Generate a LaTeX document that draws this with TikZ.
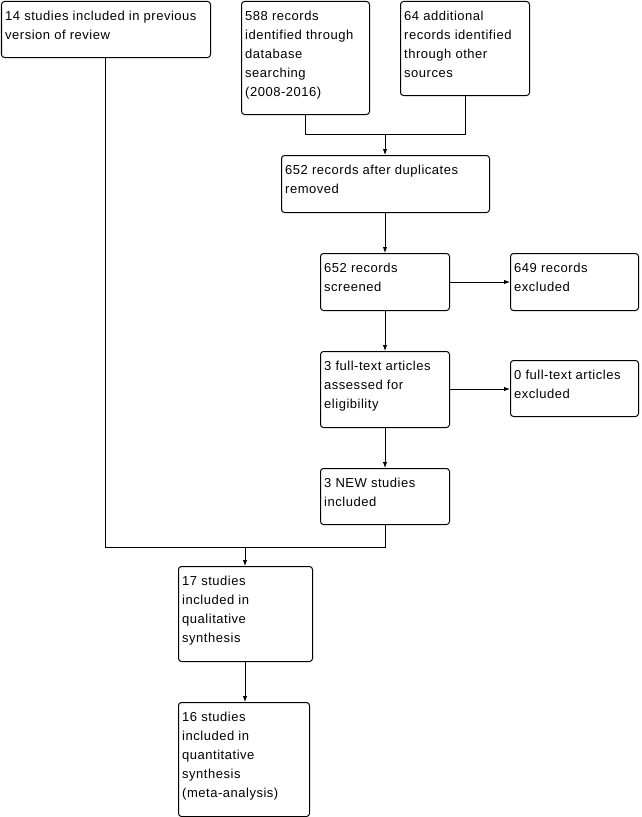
\documentclass[tikz,border=0pt]{standalone}
\usepackage{fontspec}
\setmainfont{Liberation Sans}[LetterSpace=4]
\usetikzlibrary{arrows.meta}
\tikzset{
  box/.style={draw=black, line width=1bp, rounded corners=3bp, anchor=north west, inner sep=0pt},
  lbl/.style={anchor=north west, inner sep=0pt, align=left, font=\fontsize{13bp}{19bp}\selectfont, execute at begin node=\strut},
  conn/.style={draw=black, line width=1bp},
  arr/.style={conn, -{Latex[length=6bp,width=4.5bp]}}
}
\begin{document}
\begin{tikzpicture}[x=1bp,y=-1bp]
\useasboundingbox (0,0) rectangle (642,817);
% boxes: x, y, w, h
\node[box, minimum width=209bp, minimum height=56bp] (a) at (1,1) {};
\node[box, minimum width=128bp, minimum height=113bp] (b) at (241,1) {};
\node[box, minimum width=129bp, minimum height=94bp] (c) at (400,1) {};
\node[box, minimum width=208bp, minimum height=57bp] (d) at (281,155) {};
\node[box, minimum width=129bp, minimum height=57bp] (e) at (320,253) {};
\node[box, minimum width=128bp, minimum height=57bp] (f) at (510,253) {};
\node[box, minimum width=129bp, minimum height=76bp] (g) at (320,351) {};
\node[box, minimum width=128bp, minimum height=56bp] (h) at (510,360) {};
\node[box, minimum width=129bp, minimum height=56bp] (i) at (320,468) {};
\node[box, minimum width=134bp, minimum height=95bp] (j) at (178,566) {};
\node[box, minimum width=131bp, minimum height=114bp] (k) at (178,702) {};
% labels
\node[lbl] (ta) at (5,11) {14 studies included in previous\\version of review};
\node[lbl] (tb) at (245,11) {588 records\\identified through\\database\\searching\\(2008-2016)};
\node[lbl] (tc) at (404,11) {64 additional\\records identified\\through other\\sources};
\node[lbl] (td) at (285,165) {652 records after duplicates\\removed};
\node[lbl] (te) at (324,263) {652 records\\screened};
\node[lbl] (tf) at (514,263) {649 records\\excluded};
\node[lbl] (tg) at (324,361) {3 full-text articles\\assessed for\\eligibility};
\node[lbl] (th) at (514,370) {0 full-text articles\\excluded};
\node[lbl] (ti) at (324,478) {3 NEW studies\\included};
\node[lbl] (tj) at (182,576) {17 studies\\included in\\qualitative\\synthesis};
\node[lbl] (tk) at (182,712) {16 studies\\included in\\quantitative\\synthesis\\(meta-analysis)};
% junction coordinates
\coordinate (jb) at (305,134);
\coordinate (jc) at (465,134);
\coordinate (jd) at (385,134);
\coordinate (ja) at (105,547);
\coordinate (ji) at (385,547);
\coordinate (jj) at (245,547);
% connectors
\draw[conn] (b.south -| jb) -- (jb) -- (jc) -- (c.south -| jc);
\draw[arr] (jd) -- (d.north -| jd);
\draw[arr] (d.south -| jd) -- (e.north -| jd);
\draw[arr] (e.east |- 0,282) -- (f.west |- 0,282);
\draw[arr] (e.south -| jd) -- (g.north -| jd);
\draw[arr] (g.east |- 0,389) -- (h.west |- 0,389);
\draw[arr] (g.south -| jd) -- (i.north -| jd);
\draw[conn] (a.south -| ja) -- (ja) -- (ji) -- (i.south -| ji);
\draw[arr] (jj) -- (j.north -| jj);
\draw[arr] (j.south -| jj) -- (k.north -| jj);
\end{tikzpicture}
\end{document}
